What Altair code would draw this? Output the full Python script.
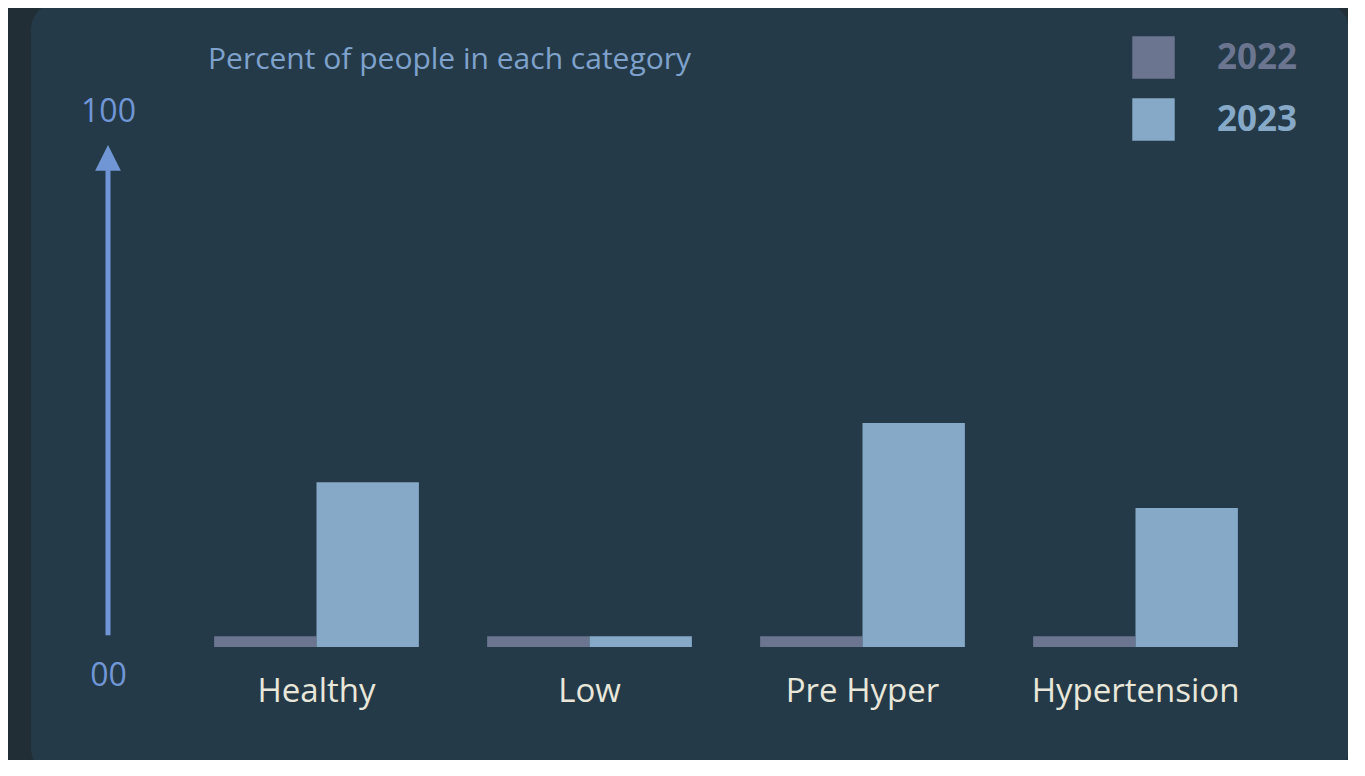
import altair as alt
import pandas as pd

categories = ["Healthy", "Low", "Pre Hyper", "Hypertension"]
years = ["2022", "2023"]
values_2022 = [2.0, 2.0, 2.0, 2.0]
values_2023 = [30.7, 2.0, 41.7, 25.9]
y_ticks = [0, 100]
bar_colors = ["#6b7590", "#86a9c8"]

OUTER = "#212e36"
PANEL = "#253a48"
AXIS_BLUE = "#7096d6"
LABEL_CREAM = "#e9e7da"
TITLE_BLUE = "#7ea2cc"
FONT = "Open Sans"

rows = []
for c, a, b in zip(categories, values_2022, values_2023):
    rows.append({"category": c, "year": years[0], "value": a})
    rows.append({"category": c, "year": years[1], "value": b})
df = pd.DataFrame(rows)

W, H = 1092, 537
PAD_L, PAD_T = 172, 102

panel = alt.Chart(pd.DataFrame({"p": [0]})).mark_rect(
    color=PANEL, cornerRadius=28
).encode(
    x=alt.value(23 - PAD_L), x2=alt.value(1341 - PAD_L),
    y=alt.value(-6 - PAD_T), y2=alt.value(768 - PAD_T)
)

ydomain = alt.Scale(domain=[0, 100], nice=False)

bars = alt.Chart(df).mark_bar(width={"band": 1}).encode(
    x=alt.X("category:N", sort=categories,
            scale=alt.Scale(paddingInner=0.25, paddingOuter=0.125),
            axis=alt.Axis(title=None, domain=False, ticks=False, labelAngle=0, zindex=2,
                          labelFont=FONT, labelFontSize=33, labelColor=LABEL_CREAM,
                          labelPadding=28, labelLimit=0)),
    xOffset=alt.XOffset("year:N", sort=years, scale=alt.Scale(paddingInner=0, paddingOuter=0)),
    y=alt.Y("value:Q", scale=ydomain,
            axis=alt.Axis(title=None, values=y_ticks, domain=False, ticks=False, grid=False,
                          offset=72, labelAlign="center", labelBaseline="middle", zindex=2,
                          labelPadding=0, labelFont=FONT, labelFontSize=32,
                          labelColor=AXIS_BLUE,
                          labelExpr="datum.value == 0 ? '00' : datum.label",
                          labelOffset={"condition": {"test": "datum.value == 0", "value": 28}, "value": 1})),
    color=alt.Color("year:N", sort=years,
                    scale=alt.Scale(domain=years, range=bar_colors),
                    legend=alt.Legend(title=None, orient="none", legendX=952, legendY=-74,
                                      symbolType="square", symbolSize=1800, symbolStrokeWidth=0,
                                      symbolOpacity=1, labelFont=FONT, labelFontSize=35,
                                      labelFontWeight="bold", labelOffset=42, rowPadding=19,
                                      padding=0, zindex=2,
                                      labelColor={"expr": "datum.label == '2022' ? '#6b7590' : '#86a9c8'"}))
)

arrow_df = pd.DataFrame({"y0": [2.2], "y1": [88.8], "yh": [91.1]})
shaft = alt.Chart(arrow_df).mark_rule(color=AXIS_BLUE, strokeWidth=5).encode(
    x=alt.value(108 - 180),
    y=alt.Y("y0:Q", scale=ydomain),
    y2="y1:Q"
)
head = alt.Chart(arrow_df).mark_point(
    shape="M-1,1L0,-1L1,1Z", filled=True, opacity=1, color=AXIS_BLUE, size=660, strokeWidth=0
).encode(
    x=alt.value(108 - 180),
    y=alt.Y("yh:Q", scale=ydomain)
)

chart = alt.layer(panel, bars, shaft, head).properties(
    width=W, height=H,
    autosize=alt.AutoSizeParams(type="none"),
    padding={"left": PAD_L, "top": PAD_T, "right": 1340 - PAD_L - W, "bottom": 752 - PAD_T - H},
    background=OUTER,
    title=alt.Title("Percent of people in each category", anchor="start", frame="group",
                    dx=28, offset=-97, font=FONT, fontSize=30, fontWeight="normal",
                    color=TITLE_BLUE, baseline="alphabetic", zindex=2)
).configure_view(stroke=None)

chart.save("out.html", embed_options={"renderer": "svg", "actions": False})
